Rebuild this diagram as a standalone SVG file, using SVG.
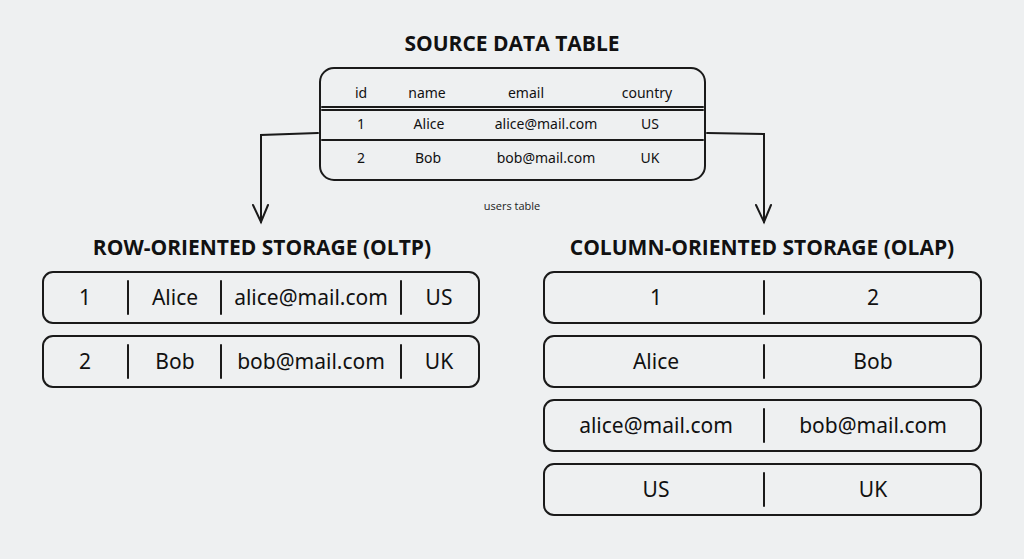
<svg xmlns="http://www.w3.org/2000/svg" width="1024" height="559" viewBox="0 0 1024 559">
<defs>
<style>
.bg{fill:#eef0f1}
.box{fill:#eef0f1;stroke:#1a1a1a;stroke-width:2}
.ln{stroke:#1a1a1a;stroke-width:2;fill:none;stroke-linecap:round}
.title{font-family:"Open Sans","Noto Sans",sans-serif;font-weight:bold;font-size:21px;fill:#111;text-anchor:middle}
.hdr{font-family:"Noto Sans","DejaVu Sans",sans-serif;font-size:14px;fill:#111;text-anchor:middle}
.cell{font-family:"Noto Sans","DejaVu Sans",sans-serif;font-size:21px;fill:#111;text-anchor:middle}
.cap{font-family:"Open Sans","Noto Sans",sans-serif;font-size:11px;fill:#222;text-anchor:middle}
</style>
</defs>
<rect class="bg" x="0" y="0" width="1024" height="559"/>

<g id="source">
<text class="title" x="512" y="51">SOURCE DATA TABLE</text>
<rect class="box" x="320" y="68" width="385" height="112" rx="14"/>
<text class="hdr" x="361" y="98">id</text>
<text class="hdr" x="427" y="98">name</text>
<text class="hdr" x="526" y="98">email</text>
<text class="hdr" x="647" y="98">country</text>
<line class="ln" x1="322" y1="107" x2="703" y2="107" stroke-width="1.5"/>
<line class="ln" x1="322" y1="110" x2="703" y2="110" stroke-width="1.5"/>
<text class="hdr" x="361" y="129">1</text>
<text class="hdr" x="429" y="129">Alice</text>
<text class="hdr" x="546" y="129">alice@mail.com</text>
<text class="hdr" x="650" y="129">US</text>
<line class="ln" x1="322" y1="140" x2="703" y2="140"/>
<text class="hdr" x="361" y="163">2</text>
<text class="hdr" x="428" y="163">Bob</text>
<text class="hdr" x="546" y="163">bob@mail.com</text>
<text class="hdr" x="650" y="163">UK</text>
<text class="cap" x="512" y="210">users table</text>
</g>

<g id="connectors">
<polyline class="ln" points="318,133 261,135 261,222"/>
<polyline class="ln" points="253,205 261,222 268,205"/>
<polyline class="ln" points="707,133 764,134 764,222"/>
<polyline class="ln" points="756,205 764,222 771,205"/>
</g>

<g id="row-storage">
<text class="title" x="262" y="255">ROW-ORIENTED STORAGE (OLTP)</text>
<g id="row1">
<rect class="box" x="43" y="272" width="436" height="51" rx="10"/>
<line class="ln" x1="128" y1="281" x2="128" y2="314"/>
<line class="ln" x1="221" y1="281" x2="221" y2="314"/>
<line class="ln" x1="401" y1="281" x2="401" y2="314"/>
<text class="cell" x="85" y="305">1</text>
<text class="cell" x="175" y="305">Alice</text>
<text class="cell" x="311" y="305">alice@mail.com</text>
<text class="cell" x="439" y="305">US</text>
</g>
<g id="row2">
<rect class="box" x="43" y="336" width="436" height="51" rx="10"/>
<line class="ln" x1="128" y1="345" x2="128" y2="378"/>
<line class="ln" x1="221" y1="345" x2="221" y2="378"/>
<line class="ln" x1="401" y1="345" x2="401" y2="378"/>
<text class="cell" x="85" y="369">2</text>
<text class="cell" x="175" y="369">Bob</text>
<text class="cell" x="311" y="369">bob@mail.com</text>
<text class="cell" x="439" y="369">UK</text>
</g>
</g>

<g id="column-storage">
<text class="title" x="762" y="255">COLUMN-ORIENTED STORAGE (OLAP)</text>
<g id="col-id">
<rect class="box" x="544" y="272" width="437" height="51" rx="10"/>
<line class="ln" x1="764" y1="281" x2="764" y2="314"/>
<text class="cell" x="656" y="305">1</text>
<text class="cell" x="873" y="305">2</text>
</g>
<g id="col-name">
<rect class="box" x="544" y="336" width="437" height="51" rx="10"/>
<line class="ln" x1="764" y1="345" x2="764" y2="378"/>
<text class="cell" x="656" y="369">Alice</text>
<text class="cell" x="873" y="369">Bob</text>
</g>
<g id="col-email">
<rect class="box" x="544" y="400" width="437" height="51" rx="10"/>
<line class="ln" x1="764" y1="409" x2="764" y2="442"/>
<text class="cell" x="656" y="433">alice@mail.com</text>
<text class="cell" x="873" y="433">bob@mail.com</text>
</g>
<g id="col-country">
<rect class="box" x="544" y="464" width="437" height="51" rx="10"/>
<line class="ln" x1="764" y1="473" x2="764" y2="506"/>
<text class="cell" x="656" y="497">US</text>
<text class="cell" x="873" y="497">UK</text>
</g>
</g>
</svg>
